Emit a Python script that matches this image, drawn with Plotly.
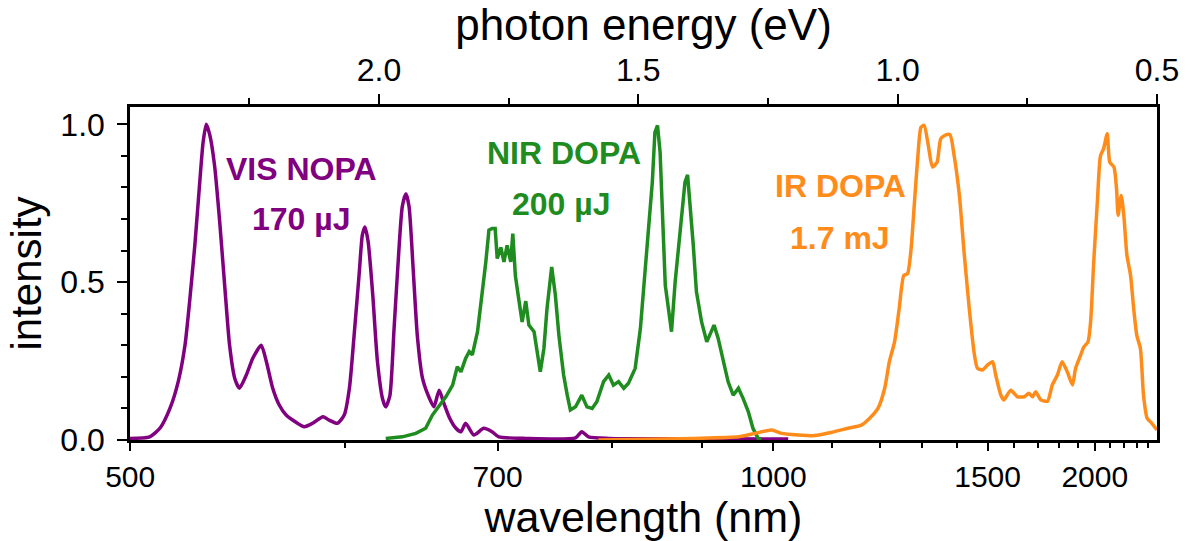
import plotly.graph_objects as go

HC = 1239.84  # eV*nm, photon energy <-> wavelength

# ---- data (x in photon energy, eV; the chart is linear in energy) ----
vis_energy_ev = [2.480, 2.442, 2.422, 2.403, 2.387, 2.374, 2.365, 2.355, 2.345, 2.339,
                 2.333, 2.326, 2.317, 2.307, 2.297, 2.288, 2.278, 2.269, 2.256, 2.243,
                 2.227, 2.217, 2.205, 2.192, 2.179, 2.160, 2.144, 2.128, 2.108, 2.096,
                 2.080, 2.067, 2.057, 2.048, 2.038, 2.032, 2.027, 2.021, 2.012, 2.003,
                 1.993, 1.987, 1.979, 1.971, 1.961, 1.955, 1.948, 1.942, 1.934, 1.926,
                 1.916, 1.903, 1.894, 1.884, 1.875, 1.865, 1.852, 1.842, 1.833, 1.817,
                 1.798, 1.782, 1.769, 1.717, 1.621, 1.609, 1.596, 1.557, 1.384, 1.211]
vis_intensity = [0.005, 0.01, 0.038, 0.10, 0.185, 0.30, 0.44, 0.617, 0.828, 0.944,
                 1.0, 0.965, 0.87, 0.69, 0.48, 0.30, 0.195, 0.164, 0.205, 0.26,
                 0.30, 0.248, 0.165, 0.11, 0.079, 0.056, 0.042, 0.053, 0.074, 0.063,
                 0.053, 0.079, 0.164, 0.33, 0.53, 0.65, 0.675, 0.63, 0.46, 0.25,
                 0.13, 0.105, 0.14, 0.35, 0.617, 0.74, 0.78, 0.74, 0.54, 0.33,
                 0.195, 0.133, 0.105, 0.158, 0.117, 0.074, 0.038, 0.026, 0.053, 0.016,
                 0.037, 0.026, 0.01, 0.005, 0.007, 0.026, 0.01, 0.005, 0.004, 0.003]

nir_energy_ev = [1.987, 1.955, 1.929, 1.910, 1.897, 1.884, 1.871, 1.858, 1.849, 1.842,
                 1.833, 1.826, 1.820, 1.810, 1.801, 1.794, 1.788, 1.782, 1.776, 1.772,
                 1.765, 1.759, 1.753, 1.746, 1.742, 1.737, 1.730, 1.724, 1.717, 1.711,
                 1.701, 1.695, 1.689, 1.682, 1.676, 1.667, 1.660, 1.653, 1.644, 1.637,
                 1.631, 1.621, 1.609, 1.599, 1.589, 1.580, 1.567, 1.557, 1.548, 1.538,
                 1.528, 1.519, 1.506, 1.496, 1.487, 1.477, 1.473, 1.468, 1.463, 1.458,
                 1.453, 1.448, 1.442, 1.436, 1.429, 1.423, 1.416, 1.410, 1.405, 1.400,
                 1.394, 1.388, 1.378, 1.368, 1.362, 1.354, 1.346, 1.336, 1.327, 1.317,
                 1.307, 1.298, 1.288, 1.279, 1.269, 1.263]
nir_intensity = [0.005, 0.01, 0.021, 0.037, 0.079, 0.11, 0.137, 0.174, 0.232, 0.216,
                 0.258, 0.28, 0.27, 0.343, 0.46, 0.564, 0.665, 0.67, 0.67, 0.575,
                 0.61, 0.564, 0.617, 0.564, 0.654, 0.52, 0.44, 0.374, 0.44, 0.364,
                 0.343, 0.27, 0.216, 0.29, 0.417, 0.548, 0.46, 0.33, 0.206, 0.142,
                 0.095, 0.105, 0.142, 0.105, 0.10, 0.121, 0.185, 0.206, 0.174, 0.185,
                 0.164, 0.18, 0.227, 0.353, 0.543, 0.754, 0.817, 0.975, 0.997, 0.912,
                 0.67, 0.49, 0.417, 0.343, 0.50, 0.596, 0.712, 0.817, 0.84, 0.744,
                 0.617, 0.47, 0.374, 0.311, 0.332, 0.364, 0.322, 0.248, 0.185, 0.142,
                 0.164, 0.132, 0.09, 0.037, 0.005, 0.0]

ir_energy_ev = [1.577, 1.391, 1.307, 1.275, 1.243, 1.224, 1.192, 1.160, 1.128, 1.096,
                1.070, 1.054, 1.038, 1.025, 1.016, 1.006, 0.997, 0.988, 0.981, 0.974,
                0.968, 0.961, 0.955, 0.949, 0.941, 0.933, 0.924, 0.917, 0.907, 0.899,
                0.891, 0.881, 0.872, 0.862, 0.852, 0.846, 0.836, 0.827, 0.817, 0.811,
                0.801, 0.795, 0.782, 0.769, 0.756, 0.747, 0.740, 0.734, 0.724, 0.711,
                0.702, 0.692, 0.683, 0.673, 0.663, 0.657, 0.647, 0.641, 0.633, 0.628,
                0.622, 0.615, 0.609, 0.603, 0.596, 0.591, 0.583, 0.578, 0.575, 0.569,
                0.564, 0.558, 0.551, 0.545, 0.539, 0.532, 0.526, 0.519, 0.510, 0.500]
ir_intensity = [0.0, 0.005, 0.01, 0.021, 0.032, 0.021, 0.016, 0.014, 0.024, 0.037,
                0.047, 0.069, 0.10, 0.164, 0.248, 0.311, 0.417, 0.522, 0.527, 0.607,
                0.744, 0.90, 0.991, 0.997, 0.934, 0.865, 0.88, 0.954, 0.967, 0.967,
                0.90, 0.775, 0.596, 0.417, 0.27, 0.227, 0.222, 0.237, 0.248, 0.206,
                0.142, 0.127, 0.158, 0.137, 0.137, 0.148, 0.137, 0.153, 0.127, 0.123,
                0.174, 0.206, 0.248, 0.216, 0.174, 0.227, 0.27, 0.295, 0.311, 0.374,
                0.564, 0.754, 0.90, 0.923, 0.97, 0.88, 0.865, 0.796, 0.712, 0.775,
                0.712, 0.585, 0.522, 0.417, 0.332, 0.29, 0.142, 0.069, 0.053, 0.032]

# ---- axis ticks ----
wl_major = [500, 700, 1000, 1500, 2000]
wl_minor = [600, 800, 900, 1100, 1200, 1300, 1400, 1600, 1700, 1800, 1900,
            2100, 2200, 2300, 2400]
ev_major = [2.0, 1.5, 1.0, 0.5]
ev_major_labels = ["2.0", "1.5", "1.0", "0.5"]
ev_minor = [2.25, 1.75, 1.25, 0.75]
y_major = [0.0, 0.5, 1.0]
y_major_labels = ["0.0", "0.5", "1.0"]

PURPLE = "#800080"
GREEN = "#1E8C1E"
ORANGE = "#FF8C1A"
FONT = "Liberation Sans, Arial, sans-serif"

fig = go.Figure()
for xs, ys, col, name, shape in [(vis_energy_ev, vis_intensity, PURPLE, "VIS NOPA", "spline"),
                                 (nir_energy_ev, nir_intensity, GREEN, "NIR DOPA", "linear"),
                                 (ir_energy_ev, ir_intensity, ORANGE, "IR DOPA", "spline")]:
    fig.add_trace(go.Scatter(x=xs, y=ys, mode="lines", name=name,
                             line=dict(color=col, width=3.5, shape=shape, smoothing=0.6),
                             showlegend=False))

# empty trace so the top (photon energy) axis is drawn
fig.add_trace(go.Scatter(x=[], y=[], xaxis="x2", yaxis="y", showlegend=False,
                         hoverinfo="skip"))

axis_common = dict(showline=True, linecolor="black", linewidth=2.5, showgrid=False,
                   zeroline=False, ticks="outside", tickwidth=2, tickcolor="black")

fig.update_layout(
    width=1191, height=541,
    paper_bgcolor="white", plot_bgcolor="white",
    margin=dict(l=130, r=31, t=107, b=101),
    font=dict(family=FONT, color="black"),
    xaxis=dict(range=[2.48, 0.5], tickmode="array", ticklen=8,
               tickvals=[HC / w for w in wl_major], ticktext=[str(w) for w in wl_major],
               tickfont=dict(size=30, color="black", family=FONT),
               minor=dict(tickmode="array", tickvals=[HC / w for w in wl_minor],
                          ticks="outside", ticklen=5, tickwidth=2, tickcolor="black",
                          showgrid=False),
               title=dict(text="wavelength (nm)", font=dict(size=43), standoff=5),
               **axis_common),
    xaxis2=dict(range=[2.48, 0.5], overlaying="x", side="top", anchor="y",
                tickmode="array", tickvals=ev_major, ticktext=ev_major_labels, ticklen=10,
                tickfont=dict(size=32, color="black", family=FONT),
                minor=dict(tickmode="array", tickvals=ev_minor, ticks="outside",
                           ticklen=6, tickwidth=2, tickcolor="black", showgrid=False),
                title=dict(text="photon energy (eV)", font=dict(size=44), standoff=0),
                **axis_common),
    yaxis=dict(range=[0, 1.055], tickmode="array", tickvals=y_major, ticklen=10,
               ticktext=y_major_labels, mirror=True, ticklabelstandoff=6,
               tickfont=dict(size=32, color="black", family=FONT),
               minor=dict(dtick=0.1, tick0=0, ticks="outside", ticklen=6, tickwidth=2,
                          tickcolor="black", showgrid=False),
               title=dict(text="intensity", font=dict(size=42), standoff=6),
               **axis_common),
)

ann_font = dict(family=FONT, size=32)
labels = [
    ("<b>VIS NOPA</b>", 2.149, 0.858, PURPLE),
    ("<b>170 µJ</b>", 2.150, 0.700, PURPLE),
    ("<b>NIR DOPA</b>", 1.644, 0.910, GREEN),
    ("<b>200 µJ</b>", 1.648, 0.747, GREEN),
    ("<b>IR DOPA</b>", 1.111, 0.804, ORANGE),
    ("<b>1.7 mJ</b>", 1.111, 0.639, ORANGE),
]
for txt, x, y, col in labels:
    fig.add_annotation(x=x, y=y, xref="x", yref="y", text=txt, showarrow=False,
                       font=dict(color=col, **ann_font))

fig.write_html("out.html")
